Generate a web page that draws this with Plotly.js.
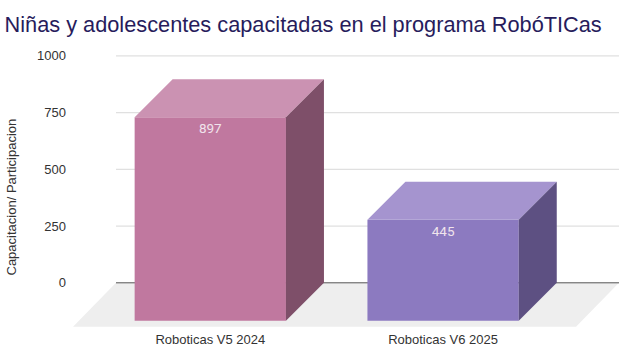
<!DOCTYPE html>
<html><head><meta charset="utf-8">
<script src="https://cdn.plot.ly/plotly-3.0.1.min.js"></script>
<style>html,body{margin:0;padding:0;background:#fff}#c{width:630px;height:352px}</style>
</head><body><div id="c"></div>
<script>
const categories = ["Roboticas V5 2024", "Roboticas V6 2025"];
const values = [897, 445];
const yTicks = [0, 250, 500, 750, 1000];
const frontColors = ["#c0789f", "#8c7ac0"];
const topColors = ["#cb92b2", "#a594cf"];
const sideColors = ["#7e4f69", "#5d5082"];

const W = 630, H = 352;
const L = 67, R = 630, T = 40, B = 330;
const xUnit = 232.8, yUnit = 0.227;
const xAt = px => (px - 210.3) / xUnit;
const yAt = px => (282.8 - px) / yUnit;
const barW = 0.65, depthX = 38 / xUnit, depthY = 38 / yUnit;
const wallL = xAt(116), wallR = xAt(619);
const floorX = 43 / xUnit, floorY = 44 / yUnit;
const labelDrop = 6 / yUnit;

const poly = (x, y, color) => ({type:"scatter", mode:"lines", x, y, fill:"toself",
  fillcolor:color, line:{width:0, color:color}, hoverinfo:"skip", showlegend:false});
const hline = (v, color, w) => ({type:"scatter", mode:"lines", x:[wallL, wallR], y:[v, v],
  line:{color, width:w}, hoverinfo:"skip", showlegend:false});

const traces = [];
traces.push(poly([wallL, wallR, wallR - floorX, wallL - floorX, wallL], [0, 0, -floorY, -floorY, 0], "#eeeeee"));
yTicks.forEach(v => traces.push(hline(v, v === 0 ? "#555555" : "#e0e0e0", v === 0 ? 1 : 1.3)));
values.forEach((v, i) => {
  const a = i - barW / 2, b = i + barW / 2;
  const bot = -depthY, top = v - depthY;
  traces.push(poly([a, b, b, a, a], [bot, bot, top, top, bot], frontColors[i]));
  traces.push(poly([a, b, b + depthX, a + depthX, a], [top, top, v, v, top], topColors[i]));
  traces.push(poly([b, b + depthX, b + depthX, b, b], [bot, 0, v, top, bot], sideColors[i]));
});
traces.push({type:"scatter", mode:"text", x:categories.map((c, i) => i),
  y:values.map(v => v - depthY - labelDrop), text:values.map(String), textposition:"bottom center",
  textfont:{family:"Roboto, sans-serif", size:13.5, color:"#f0e4ec"}, hoverinfo:"skip", showlegend:false});

const layout = {
  width:W, height:H, paper_bgcolor:"#fff", plot_bgcolor:"rgba(0,0,0,0)", showlegend:false,
  margin:{l:L, r:W - R, t:T, b:H - B, pad:0},
  font:{family:"Liberation Sans, Arial, sans-serif", size:13, color:"#333333"},
  title:{text:"Niñas y adolescentes capacitadas en el programa RobóTICas",
    x:4.5 / W, xanchor:"left", y:1 - 24.5 / H, yanchor:"middle",
    font:{family:"Liberation Sans, Arial, sans-serif", size:21.75, color:"#271c5c"}},
  xaxis:{range:[xAt(L), xAt(R)], tickmode:"array", tickvals:categories.map((c, i) => i), ticktext:categories,
    showgrid:false, zeroline:false, showline:false, ticks:"", tickfont:{size:13, color:"#333333"}},
  yaxis:{range:[yAt(B), yAt(T)], tickmode:"array", tickvals:yTicks, ticktext:yTicks.map(String),
    showgrid:false, zeroline:false, showline:false, ticks:"", tickfont:{size:13, color:"#333333"}},
  annotations:[{text:"Capacitacion/ Participacion", xref:"paper", yref:"paper",
    x:(11 - L) / (R - L), y:(B - 197.5) / (B - T), xanchor:"center", yanchor:"middle",
    textangle:-90, showarrow:false, font:{size:13, color:"#333333"}}]
};
Plotly.newPlot("c", traces, layout, {displayModeBar:false, staticPlot:true});
</script></body></html>
